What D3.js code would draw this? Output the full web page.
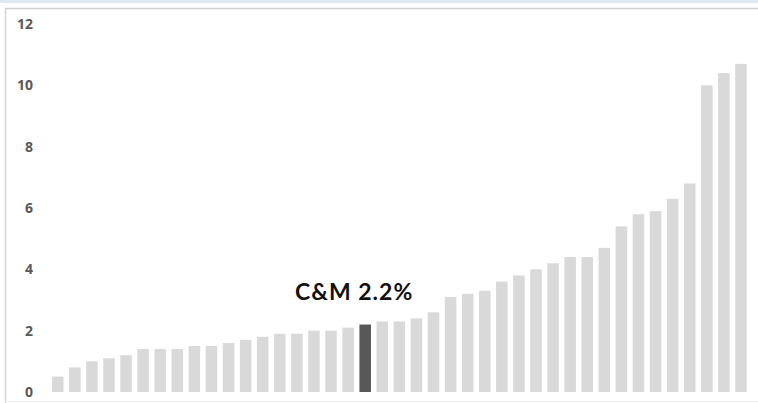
<!DOCTYPE html>
<html>
<head>
<meta charset="utf-8">
<script src="https://cdn.jsdelivr.net/npm/d3@7"></script>
<style>
  html, body { margin: 0; padding: 0; background: #fff; }
  svg { display: block; }
</style>
</head>
<body>
<svg id="chart" width="758" height="403"></svg>
<script>
const categories = d3.range(1, 42).map(i => "B" + i);
const values = [0.5, 0.8, 1.0, 1.1, 1.2, 1.4, 1.4, 1.4, 1.5, 1.5, 1.6, 1.7, 1.8, 1.9, 1.9, 2.0, 2.0, 2.1, 2.2, 2.3, 2.3, 2.4, 2.6, 3.1, 3.2, 3.3, 3.6, 3.8, 4.0, 4.2, 4.4, 4.4, 4.7, 5.4, 5.8, 5.9, 6.3, 6.8, 10.0, 10.4, 10.7];
const highlightIndex = 18;
const highlightLabel = "C&M 2.2%";
const yTicks = [0, 2, 4, 6, 8, 10, 12];

const svg = d3.select("#chart");
const W = 758, H = 403;

// top band and frame
svg.append("rect").attr("x", 0).attr("y", 0).attr("width", W).attr("height", 3).attr("fill", "#dfe8f3");
svg.append("line").attr("x1", 5).attr("x2", W).attr("y1", 8.5).attr("y2", 8.5).attr("stroke", "#d0d0d0").attr("stroke-width", 1.5);
svg.append("line").attr("x1", 5.5).attr("x2", 5.5).attr("y1", 8).attr("y2", H).attr("stroke", "#d6d6d6").attr("stroke-width", 1.5);
svg.append("line").attr("x1", 5).attr("x2", W).attr("y1", 401.5).attr("y2", 401.5).attr("stroke", "#ececec").attr("stroke-width", 1);

const x = d3.scaleBand().domain(categories).range([49.2, 749.5]).paddingInner(0.325).paddingOuter(0.1625);
const y = d3.scaleLinear().domain([0, 12]).range([392, 24]);

const yAxis = d3.axisLeft(y).tickValues(yTicks).tickSize(0).tickPadding(0).tickFormat(d3.format("d"));
const gy = svg.append("g").attr("transform", "translate(33,0)").call(yAxis);
gy.select(".domain").remove();
gy.selectAll("text")
  .attr("fill", "#595959")
  .style("font-family", "'Open Sans', sans-serif")
  .style("font-size", "14px")
  .style("font-weight", "700");

svg.append("g").selectAll("rect")
  .data(values)
  .join("rect")
  .attr("x", (d, i) => x(categories[i]))
  .attr("y", d => y(d))
  .attr("width", x.bandwidth())
  .attr("height", d => y(0) - y(d))
  .attr("fill", (d, i) => i === highlightIndex ? "#585858" : "#d9d9d9");

svg.append("text")
  .attr("x", x(categories[highlightIndex]) + x.bandwidth() / 2 - 11)
  .attr("y", y(values[highlightIndex]) - 25)
  .attr("text-anchor", "middle")
  .attr("fill", "#111")
  .style("font-family", "Lato, sans-serif")
  .style("font-weight", "700")
  .style("font-size", "23px")
  .style("letter-spacing", "1px")
  .text(highlightLabel);
</script>
</body>
</html>
